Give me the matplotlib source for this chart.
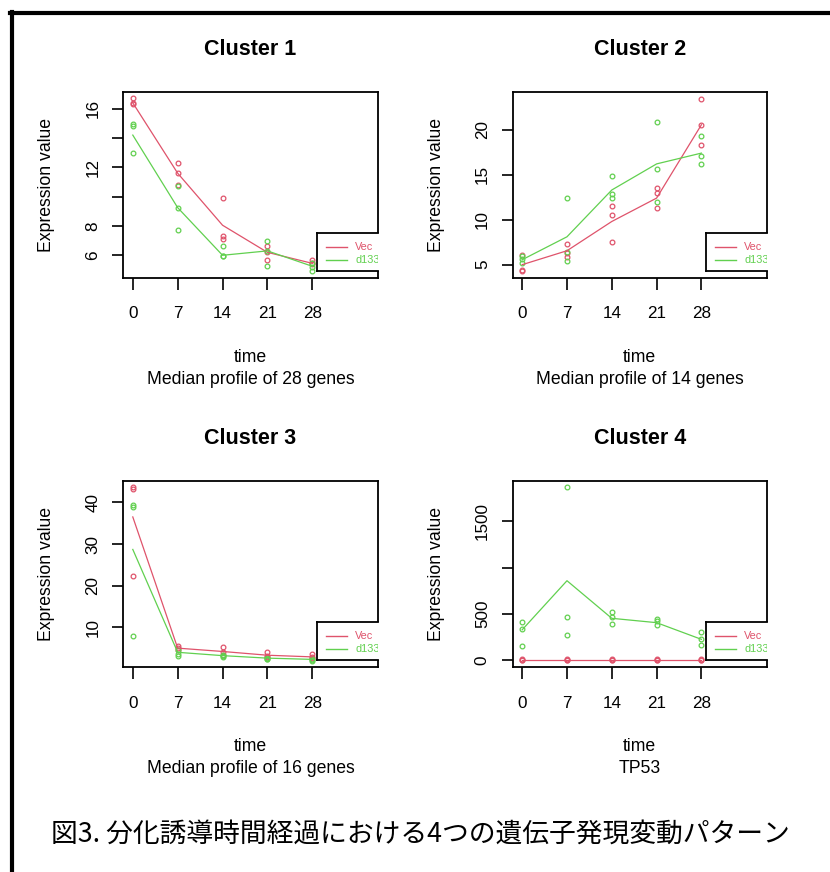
import matplotlib
matplotlib.use('Agg')
import matplotlib.pyplot as plt
from matplotlib.patches import Rectangle
from matplotlib.lines import Line2D

plt.rcParams['font.family'] = ['Liberation Sans', 'Noto Sans CJK JP', 'DejaVu Sans']

W, H = 830, 872
RED = '#DF536B'
GREEN = '#61D04F'

times = [0, 7, 14, 21, 28]

# Cluster 1
c1_vec_pts = [[16.7, 16.4, 16.3], [12.3, 11.6, 10.8], [9.9, 7.3, 7.1], [6.6, 6.2, 5.7], [5.65, 5.5, 5.4]]
c1_vec_line = [16.4, 11.6, 8.05, 6.2, 5.45]
c1_d133_pts = [[14.95, 14.8, 12.95], [10.75, 9.25, 7.75], [6.6, 5.95, 5.95], [7.0, 6.3, 5.25], [5.45, 5.2, 4.95]]
c1_d133_line = [14.2, 9.25, 6.0, 6.3, 5.25]

# Cluster 2
c2_vec_pts = [[6.1, 4.45, 4.3], [7.35, 6.3, 5.85], [11.5, 10.55, 7.5], [13.55, 13.0, 11.35], [23.45, 20.55, 18.35]]
c2_vec_line = [5.0, 6.55, 9.8, 12.4, 20.55]
c2_d133_pts = [[6.0, 5.6, 5.2], [12.4, 6.4, 5.4], [14.85, 12.8, 12.45], [20.85, 15.65, 11.95], [19.3, 17.05, 16.2]]
c2_d133_line = [5.55, 8.1, 13.3, 16.2, 17.4]

# Cluster 3
c3_vec_pts = [[43.6, 43.3, 22.4], [5.6, 5.1, 4.6], [5.3, 4.1, 3.4], [4.0, 3.2, 2.9], [3.6, 2.9, 2.6]]
c3_vec_line = [36.5, 5.0, 4.2, 3.3, 2.9]
c3_d133_pts = [[39.3, 39.0, 7.8], [4.5, 3.5, 3.1], [3.3, 3.0, 2.8], [2.7, 2.5, 2.3], [2.4, 2.2, 2.0]]
c3_d133_line = [28.7, 4.0, 3.2, 2.6, 2.3]

# Cluster 4 (TP53)
c4_vec_pts = [[10, 8, 6], [10, 8, 6], [10, 8, 6], [10, 8, 6], [10, 8, 6]]
c4_vec_line = [8, 8, 8, 8, 8]
c4_d133_pts = [[410, 335, 155], [1868, 468, 274], [518, 472, 392], [446, 425, 378], [302, 227, 166]]
c4_d133_line = [330, 860, 454, 407, 227]

titles = ['Cluster 1', 'Cluster 2', 'Cluster 3', 'Cluster 4']
subtitles = ['Median profile of 28 genes', 'Median profile of 14 genes',
             'Median profile of 16 genes', 'TP53']
yticks = [[6, 8, 10, 12, 14, 16], [5, 10, 15, 20], [10, 20, 30, 40], [0, 500, 1000, 1500]]
yticklabels = [['6', '8', '', '12', '', '16'], ['5', '10', '15', '20'],
               ['10', '20', '30', '40'], ['0', '500', '', '1500']]
ylims = [(4.45, 17.14), (3.52, 24.19), (0.4, 45.2), (-75, 1940)]
legend_labels = ['Vec', 'd133']

panels = [
    (c1_vec_pts, c1_vec_line, c1_d133_pts, c1_d133_line),
    (c2_vec_pts, c2_vec_line, c2_d133_pts, c2_d133_line),
    (c3_vec_pts, c3_vec_line, c3_d133_pts, c3_d133_line),
    (c4_vec_pts, c4_vec_line, c4_d133_pts, c4_d133_line),
]

# pixel boxes of the four plot regions (left, top, right, bottom)
boxes = [(123.3, 92, 377.7, 278), (512.7, 92, 766.7, 278),
         (123.3, 480.7, 377.7, 667.3), (512.7, 480.7, 766.7, 667.3)]

fig = plt.figure(figsize=(W / 100, H / 100), dpi=100)


def fx(x):
    return x / W


def fy(y):
    return 1 - y / H


for i, (vp, vl, dp, dl) in enumerate(panels):
    l, t, r, b = boxes[i]
    ax = fig.add_axes([fx(l), fy(b), (r - l) / W, (b - t) / H])

    for series, col in ((vp, RED), (dp, GREEN)):
        for tm, vals in zip(times, series):
            ax.plot([tm] * len(vals), vals, 'o', ms=3.4, mfc='none', mec=col, mew=0.9)
    ax.plot(times, vl, color=RED, lw=0.9)
    ax.plot(times, dl, color=GREEN, lw=0.9)

    ax.set_xlim(-1.48, 38.2)
    ax.set_ylim(*ylims[i])
    ax.set_xticks(times)
    ax.set_xticklabels([str(v) for v in times])
    ax.set_yticks(yticks[i])
    ax.set_yticklabels(yticklabels[i], rotation=90, va='center')
    ax.tick_params(axis='x', length=8.5, width=1.2, pad=12, labelsize=12.3)
    ax.tick_params(axis='y', length=8, width=1.2, pad=8.5, labelsize=12.3)
    for sp in ax.spines.values():
        sp.set_linewidth(1.3)

    # legend box in the lower right corner, cut off by the plot edge
    x0, y0, y1 = 0.76, 0.038, 0.244
    ax.add_patch(Rectangle((x0, y0), 1.02 - x0, y1 - y0, transform=ax.transAxes,
                           facecolor='white', edgecolor='none', zorder=4, clip_on=False))
    for xs, ys in (([x0, 1.0], [y1, y1]), ([x0, 1.0], [y0, y0]), ([x0, x0], [y0, y1])):
        ax.add_line(Line2D(xs, ys, transform=ax.transAxes, color='black', lw=1.3,
                           zorder=5, clip_on=False, solid_capstyle='projecting'))
    for yy, lab, col in ((0.168, legend_labels[0], RED), (0.097, legend_labels[1], GREEN)):
        ax.add_line(Line2D([0.796, 0.881], [yy, yy], transform=ax.transAxes,
                           color=col, lw=1.0, zorder=6))
        ax.text(0.912, yy, lab, transform=ax.transAxes, color=col, fontsize=7.8,
                va='center', ha='left', zorder=6, clip_on=True)

    cx = (l + r) / 2
    fig.text(fx(cx), fy(t - 42.5), titles[i], ha='center', va='center',
             fontsize=15.5, fontweight='bold')
    fig.text(fx(cx), fy(b + 79.3), 'time', ha='center', va='center', fontsize=12.7)
    fig.text(fx(cx), fy(b + 101.3), subtitles[i], ha='center', va='center', fontsize=12.7)
    fig.text(fx(l - 76.6), fy((t + b) / 2), 'Expression value', rotation=90,
             ha='center', va='center', fontsize=12.7)

fig.text(fx(420), fy(834), '図3. 分化誘導時間経過における4つの遺伝子発現変動パターン',
         ha='center', va='center', fontsize=19.3,
         family=['Noto Sans CJK JP', 'DejaVu Sans'])

# outer frame (top and left edges of the cropped screenshot)
fig.add_artist(Line2D([fx(10), fx(830)], [fy(13.5), fy(13.5)], color='black', lw=3.0))
fig.add_artist(Line2D([fx(12), fx(12)], [fy(12), fy(872)], color='black', lw=3.0))

fig.savefig('out.png', dpi=100)
